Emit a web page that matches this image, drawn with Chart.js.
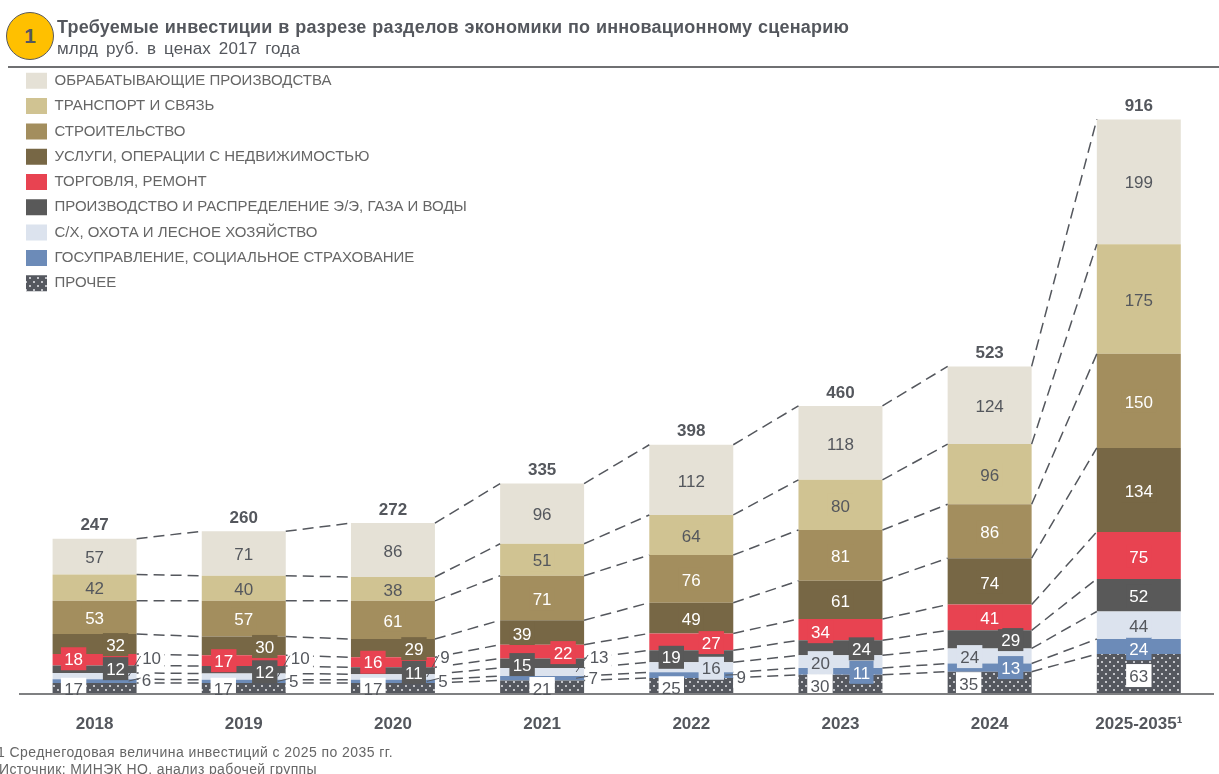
<!DOCTYPE html>
<html lang="ru"><head><meta charset="utf-8">
<style>
html,body{margin:0;padding:0;background:#fff;width:1219px;height:774px;overflow:hidden;font-family:"Liberation Sans",Arial,sans-serif}
#wrap{position:relative;width:1219px;height:774px;overflow:hidden}
canvas{position:absolute;left:0;top:0}
.t{position:absolute;white-space:pre;line-height:1}
#badge{position:absolute;left:6px;top:11.5px;width:46px;height:46px;border-radius:50%;background:#FFC000;border:1px solid #5a5a5a;text-align:center;line-height:45px;font-weight:bold;font-size:21px;color:#54575d}
#rule{position:absolute;left:8px;top:66px;width:1211px;height:1.5px;background:#6f7072}
</style></head><body>
<div id="wrap">
<canvas id="c" width="1219" height="774"></canvas>
<div id="rule"></div>
<div id="badge">1</div>
<div class="t" data-w="792" style="left:57px;top:18px;font-size:18px;font-weight:bold;word-spacing:0.5px;color:#54575d">Требуемые инвестиции в разрезе разделов экономики по инновационному сценарию</div>
<div class="t" data-w="243" style="left:57px;top:40px;font-size:17px;word-spacing:3px;color:#54575d">млрд руб. в ценах 2017 года</div>
<div class="t" data-w="396" style="left:-3px;top:745px;font-size:14px;color:#666">1 Среднегодовая величина инвестиций с 2025 по 2035 гг.</div>
<div class="t" data-w="318" style="left:-1px;top:762px;font-size:14px;color:#666">Источник: МИНЭК НО, анализ рабочей группы</div>
</div>
<script src="https://cdn.jsdelivr.net/npm/chart.js@4"></script>
<script>
const categories=["2018","2019","2020","2021","2022","2023","2024","2025-2035¹"];
const totals=[247,260,272,335,398,460,523,916];
const other=[17,17,17,21,25,30,35,63];
const gov=[6,5,5,7,9,11,13,24];
const agri=[10,10,9,13,16,20,24,44];
const energy=[12,12,11,15,19,24,29,52];
const trade=[18,17,16,22,27,34,41,75];
const realty=[32,30,29,39,49,61,74,134];
const construction=[53,57,61,71,76,81,86,150];
const transport=[42,40,38,51,64,80,96,175];
const manufacturing=[57,71,86,96,112,118,124,199];
const seriesNames=["ПРОЧЕЕ","ГОСУПРАВЛЕНИЕ, СОЦИАЛЬНОЕ СТРАХОВАНИЕ","С/Х, ОХОТА И ЛЕСНОЕ ХОЗЯЙСТВО","ПРОИЗВОДСТВО И РАСПРЕДЕЛЕНИЕ Э/Э, ГАЗА И ВОДЫ","ТОРГОВЛЯ, РЕМОНТ","УСЛУГИ, ОПЕРАЦИИ С НЕДВИЖИМОСТЬЮ","СТРОИТЕЛЬСТВО","ТРАНСПОРТ И СВЯЗЬ","ОБРАБАТЫВАЮЩИЕ ПРОИЗВОДСТВА"];

/* label placement, relative to each segment centre */
const zero=[0,0,0,0,0,0,0,0], up=[1.5,1.5,1.5,1.5,1.5,1.5,1.5,1.5];
const labelDx=[[-21,-20.5,-20,0,-20,-20.5,-21,0],[52,50,50,51,50,21,21,0],[57,56.5,52,57,20,-20,-20,0],[21,21,21,-20,-20,21,21,0],[-21,-20,-20,21,20,-20,0,0],[21,21,21,-20,0,0,0,0],zero,zero,zero];
const labelDy=[[2,2,2,2.5,3,2.4,2,2.7],[0,0,0,1,2.5,2,1,3],[-17,-18,-19,-14,2,2,1.6,2],[.5,3,2.7,2.4,2,2,1.2,1.5],[0,1,1,2,1.7,3,1.2,2],[1.5,1.5,1.5,2,2,1.7,2,2],up,up,up];
const outside=[[],[0,1,2,3,4],[0,1,2,3],[],[],[],[],[],[]];

const colors=["#55585f","#6C8BB8","#DCE3EE","#595959","#E84351","#776745","#A38E5E","#D0C392","#E5E1D6"];
const textColors=["#54575d","#ffffff","#54575d","#ffffff","#ffffff","#ffffff","#ffffff","#54575d","#54575d"];
const boxColors=["#ffffff","#6C8BB8","#DCE3EE","#595959","#E84351","#776745","#A38E5E","#D0C392","#E5E1D6"];
const inkColor="#54575d", K=574/916, TOP=70, BASE=693.4;

function dots(){const p=document.createElement('canvas');p.width=8;p.height=8;const g=p.getContext('2d');
  g.fillStyle=colors[0];g.fillRect(0,0,8,8);g.fillStyle="#e8e9ec";
  [[2,2],[6,6]].forEach(d=>{g.beginPath();g.arc(d[0],d[1],1,0,7);g.fill();});
  return document.getElementById('c').getContext('2d').createPattern(p,'repeat');}

document.querySelectorAll('.t[data-w]').forEach(e=>{
  const w=e.getBoundingClientRect().width,n=e.textContent.length;
  e.style.letterSpacing=((+e.dataset.w-w)/n)+'px';
});

const values=[other,gov,agri,energy,trade,realty,construction,transport,manufacturing];
const labelFont='17px "Liberation Sans"';
const overlay={
  id:'overlay',
  afterLayout(ch){ch.legend.left=16.7;ch.legend.top=63.5;},
  afterDatasetsDraw(ch){
    const c=ch.ctx;c.save();
    c.strokeStyle=inkColor;c.lineWidth=1.5;c.setLineDash([11,6]);
    values.forEach((v,s)=>{const d=ch.getDatasetMeta(s).data;
      for(let i=0;i<d.length-1;i++){c.beginPath();c.moveTo(d[i].x+d[i].width/2,d[i].y);c.lineTo(d[i+1].x-d[i+1].width/2,d[i+1].y);c.stroke();}
    });
    c.setLineDash([]);c.font=labelFont;
    values.forEach((v,s)=>{const d=ch.getDatasetMeta(s).data;
      v.forEach((val,i)=>{const out=outside[s].includes(i);
        const w=c.measureText(String(val)).width+6.5,x=d[i].x+labelDx[s][i],y=(d[i].y+d[i].base)/2+labelDy[s][i];
        c.fillStyle=out?"#ffffff":boxColors[s];
        c.fillRect(x-w/2,y-12.5,w,23);
      });
    });
    c.restore();
  },
  afterDraw(ch){
    const c=ch.ctx;c.save();c.textAlign='center';c.textBaseline='middle';c.font=labelFont;
    values.forEach((v,s)=>{const d=ch.getDatasetMeta(s).data;
      v.forEach((val,i)=>{const out=outside[s].includes(i);
        const x=d[i].x+labelDx[s][i],cy=(d[i].y+d[i].base)/2,y=cy+labelDy[s][i];
        if(out){const r=d[i].x+d[i].width/2;c.strokeStyle=inkColor;c.lineWidth=1;c.beginPath();c.moveTo(r-8,cy);c.lineTo(r+4,y-3);c.stroke();}
        c.fillStyle=out?inkColor:textColors[s];
        c.fillText(String(val),x,y+.5);
      });
    });
    c.font='bold 17px "Liberation Sans"';c.fillStyle=inkColor;
    const top=ch.getDatasetMeta(values.length-1).data;
    totals.forEach((t,i)=>c.fillText(String(t),top[i].x,top[i].y-13));
    c.restore();
  }
};

new Chart(document.getElementById('c'),{
  type:'bar',
  data:{labels:categories,datasets:values.map((v,s)=>({label:seriesNames[s],data:v,backgroundColor:s===0?dots():colors[s],borderWidth:0,barPercentage:.563,categoryPercentage:1}))},
  options:{
    responsive:false,animation:false,
    layout:{padding:{left:20,right:5.6,top:TOP,bottom:18}},
    plugins:{
      tooltip:{enabled:false},title:{display:false},
      legend:{display:true,position:'chartArea',align:'start',reverse:true,
        labels:{boxWidth:21,boxHeight:16,padding:9.3,color:"#666666",font:{family:'"Liberation Sans"',size:15}}}
    },
    scales:{
      x:{stacked:true,grid:{display:false,drawTicks:false},border:{display:true,color:"#7f8082",width:2,z:1},
        ticks:{padding:21,color:inkColor,font:{family:'"Liberation Sans"',size:17,weight:'bold'},maxRotation:0,autoSkip:false}},
      y:{stacked:true,display:false,min:0,max:(BASE-TOP)/K}
    }
  },
  plugins:[overlay]
});
</script>
</body></html>
